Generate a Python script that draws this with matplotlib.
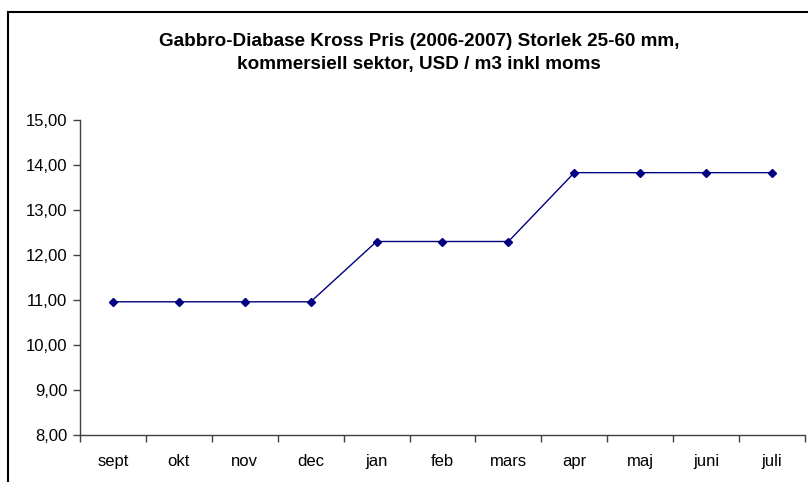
import numpy as np
import matplotlib.pyplot as plt
from matplotlib.patches import Rectangle

# adatok
honapok = ["sept", "okt", "nov", "dec", "jan", "feb", "mars", "apr", "maj", "juni", "juli"]
arak = [10.96, 10.96, 10.96, 10.96, 12.30, 12.30, 12.30, 13.83, 13.83, 13.83, 13.83]
y_tickek = [8, 9, 10, 11, 12, 13, 14, 15]

plt.rcParams['font.family'] = ['Liberation Sans', 'DejaVu Sans']

W, H = 808, 482
fig = plt.figure(figsize=(W / 100, H / 100), dpi=100)

# keret a diagram körül
fig.patches.append(Rectangle((8 / W, -0.1), 1.1, 1 - 12 / H + 0.1, transform=fig.transFigure,
                             fill=False, edgecolor="black", linewidth=1.5))

ax = fig.add_axes([80 / W, 1 - 435 / H, (805 - 80) / W, (435 - 120) / H])
x = np.arange(len(honapok))
ax.plot(x, arak, color="#000080", linewidth=1.0, marker="D", markersize=4.5,
        markerfacecolor="#000080", markeredgecolor="#000080")

ax.set_xlim(-0.5, len(honapok) - 0.5)
ax.set_ylim(8, 15)
ax.set_yticks(y_tickek)
ax.set_yticklabels([f"{v:.2f}".replace(".", ",") for v in y_tickek], fontsize=12)

ax.set_xticks(np.arange(-0.5, len(honapok), 1.0))
ax.set_xticklabels([])
ax.set_xticks(x, minor=True)
ax.set_xticklabels(honapok, minor=True, fontsize=12)
ax.tick_params(axis="x", which="minor", length=0, pad=14)
ax.tick_params(axis="x", which="major", length=5, width=1, color="#404040")
ax.tick_params(axis="y", length=5, width=1, color="#404040", pad=4)

for s in ["top", "right"]:
    ax.spines[s].set_visible(False)
for s in ["left", "bottom"]:
    ax.spines[s].set_color("#404040")
    ax.spines[s].set_linewidth(1)

fig.text(419 / W, 1 - 42 / H, "Gabbro-Diabase Kross Pris (2006-2007) Storlek 25-60 mm,",
         ha="center", va="center", fontsize=13.6, fontweight="bold")
fig.text(419 / W, 1 - 64 / H, "kommersiell sektor, USD / m3 inkl moms",
         ha="center", va="center", fontsize=13.6, fontweight="bold")

fig.savefig("out.png", dpi=100)
